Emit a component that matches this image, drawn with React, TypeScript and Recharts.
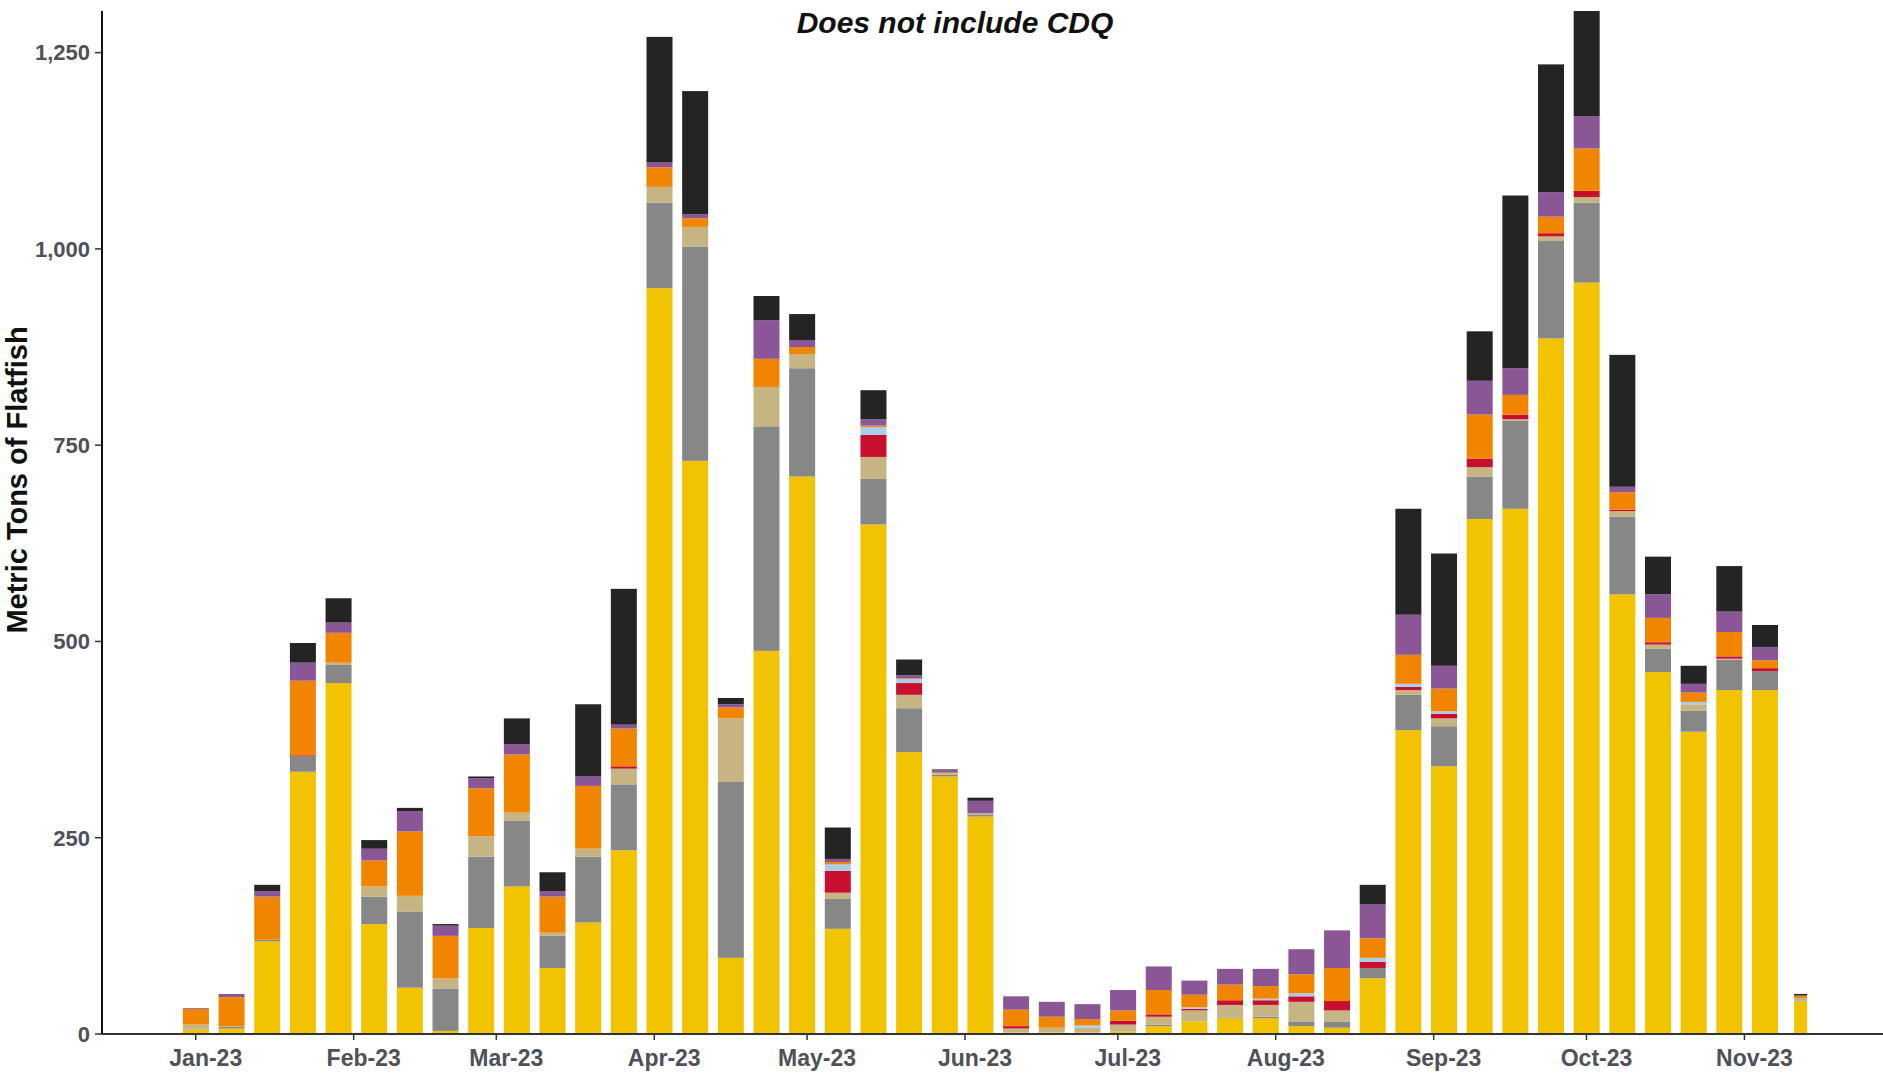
import React from "react";
import { BarChart, Bar, XAxis, YAxis } from "recharts";

// Week dates (one bar per week)
const weekDates = [
  "2023-01-01", "2023-01-08", "2023-01-15", "2023-01-22", "2023-01-29",
  "2023-02-05", "2023-02-12", "2023-02-19", "2023-02-26",
  "2023-03-05", "2023-03-12", "2023-03-19", "2023-03-26",
  "2023-04-02", "2023-04-09", "2023-04-16", "2023-04-23", "2023-04-30",
  "2023-05-07", "2023-05-14", "2023-05-21", "2023-05-28",
  "2023-06-04", "2023-06-11", "2023-06-18", "2023-06-25",
  "2023-07-02", "2023-07-09", "2023-07-16", "2023-07-23", "2023-07-30",
  "2023-08-06", "2023-08-13", "2023-08-20", "2023-08-27",
  "2023-09-03", "2023-09-10", "2023-09-17", "2023-09-24",
  "2023-10-01", "2023-10-08", "2023-10-15", "2023-10-22", "2023-10-29",
  "2023-11-05", "2023-11-12",
];

// Series values (metric tons), bottom to top of each stack
const seriesYellow = [6, 7, 118, 334, 447, 140, 59, 4, 135, 188, 84, 142, 234, 950, 730, 97, 488, 710, 134, 649, 359, 328, 277, 2, 2, 2, 3, 10, 16, 20, 20, 10, 8, 71, 387, 341, 656, 669, 886, 957, 560, 461, 385, 438, 438, 41];
const seriesGray = [1, 2, 2, 20, 23, 35, 97, 54, 91, 84, 41, 84, 84, 109, 273, 224, 286, 138, 38, 58, 56, 2, 2, 0, 0, 0, 0, 2, 0, 1, 2, 6, 8, 13, 45, 51, 54, 112, 124, 102, 99, 30, 27, 39, 24, 0];
const seriesTan = [5, 1, 0, 0, 3, 13, 20, 13, 26, 10, 4, 10, 20, 20, 25, 81, 50, 18, 8, 28, 17, 2, 2, 5, 6, 6, 9, 10, 14, 16, 15, 25, 14, 0, 6, 10, 12, 2, 6, 7, 7, 5, 8, 1, 0, 5];
const seriesRed = [0, 0, 0, 1, 0, 0, 0, 0, 0, 0, 0, 0, 3, 0, 0, 0, 0, 0, 28, 28, 15, 0, 0, 3, 0, 0, 5, 3, 2, 6, 6, 7, 12, 8, 4, 6, 11, 6, 4, 8, 2, 3, 0, 3, 4, 0];
const seriesLightBlue = [0, 0, 0, 0, 0, 0, 0, 0, 0, 0, 0, 0, 0, 0, 0, 0, 0, 0, 8, 10, 5, 0, 0, 0, 0, 3, 0, 0, 2, 0, 2, 4, 0, 5, 4, 3, 0, 0, 0, 0, 0, 0, 3, 0, 0, 0];
const seriesOrange = [20, 37, 55, 95, 38, 33, 82, 54, 61, 74, 46, 80, 48, 25, 11, 14, 36, 9, 3, 2, 1, 1, 0, 21, 14, 8, 13, 31, 16, 20, 16, 24, 42, 25, 37, 29, 56, 25, 21, 54, 22, 31, 12, 31, 10, 3];
const seriesPurple = [1, 4, 7, 23, 13, 15, 26, 13, 13, 13, 7, 12, 5, 6, 5, 4, 49, 9, 4, 8, 4, 3, 16, 17, 19, 19, 26, 30, 18, 20, 22, 32, 48, 43, 51, 29, 43, 34, 31, 41, 7, 30, 11, 26, 17, 0];
const seriesBlack = [0, 0, 8, 25, 31, 11, 4, 2, 2, 33, 24, 92, 173, 160, 157, 8, 31, 33, 40, 37, 20, 1, 4, 0, 0, 0, 0, 0, 0, 0, 0, 0, 0, 25, 135, 143, 63, 220, 163, 170, 168, 48, 23, 58, 28, 2];

// Axis ticks
const monthTickDates = ["2023-01-01", "2023-02-01", "2023-03-01", "2023-04-01", "2023-05-01", "2023-06-01", "2023-07-01", "2023-08-01", "2023-09-01", "2023-10-01", "2023-11-01"];
const monthTickLabels = ["Jan-23", "Feb-23", "Mar-23", "Apr-23", "May-23", "Jun-23", "Jul-23", "Aug-23", "Sep-23", "Oct-23", "Nov-23"];
const yTicks = [0, 250, 500, 750, 1000, 1250];

const DAY = 86400000;
const ORIGIN = Date.UTC(2023, 0, 1);
const toDay = (s: string) => {
  const [y, m, d] = s.split("-").map(Number);
  return Math.round((Date.UTC(y, m - 1, d) - ORIGIN) / DAY);
};

const days = weekDates.map(toDay);
const monthTicks = monthTickDates.map(toDay);
const lastDay = days[days.length - 1];

const data = days.map((day, i) => ({
  day,
  yellow: seriesYellow[i],
  gray: seriesGray[i],
  tan: seriesTan[i],
  red: seriesRed[i],
  lightblue: seriesLightBlue[i],
  orange: seriesOrange[i],
  purple: seriesPurple[i],
  black: seriesBlack[i],
}));

const series = [
  { key: "yellow", color: "#F2C300" },
  { key: "gray", color: "#878787" },
  { key: "tan", color: "#C6B483" },
  { key: "red", color: "#C8102E" },
  { key: "lightblue", color: "#A9CDEB" },
  { key: "orange", color: "#F28500" },
  { key: "purple", color: "#8B5696" },
  { key: "black", color: "#242424" },
];

const W = 1883;
const H = 1074;
const TICK_COLOR = "#4E5158";

const BarShape = (props: any) => {
  const { x, y, width, height, fill, payload } = props;
  if (!height || height <= 0 || !width) return null;
  let w = width;
  let xx = x;
  if (payload && payload.day === lastDay) {
    w = width / 2;
    xx = x + width / 4;
  }
  return <rect x={xx} y={y} width={w} height={height} fill={fill} />;
};

const XTick = (props: any) => {
  const { x, y, payload } = props;
  const idx = monthTicks.indexOf(payload.value);
  return (
    <text
      x={x + 10}
      y={y + 24}
      textAnchor="middle"
      fill={TICK_COLOR}
      fontFamily="Liberation Sans, Arial, sans-serif"
      fontWeight={700}
      fontSize={23}
    >
      {idx >= 0 ? monthTickLabels[idx] : ""}
    </text>
  );
};

export default function App() {
  return (
    <div style={{ position: "absolute", left: 0, top: 0, width: W, height: H, overflow: "hidden", background: "#fff" }}>
      <BarChart
        width={W}
        height={H}
        data={data}
        margin={{ top: 11, right: 0, bottom: 0, left: 0 }}
        barGap={0}
      >
        <XAxis
          dataKey="day"
          type="number"
          domain={[-18.4, 331.2]}
          allowDataOverflow
          ticks={monthTicks}
          interval={0}
          height={40}
          tickSize={6}
          tick={<XTick />}
          axisLine={{ stroke: "#333", strokeWidth: 2 }}
          tickLine={{ stroke: "#333", strokeWidth: 1.5 }}
        />
        <YAxis
          type="number"
          domain={[0, 1303]}
          allowDataOverflow
          ticks={yTicks}
          width={102}
          tickSize={7}
          tickMargin={5}
          tickFormatter={(v: number) => v.toLocaleString("en-US")}
          tick={{ fill: TICK_COLOR, fontSize: 22, fontWeight: 700, fontFamily: "Liberation Sans, Arial, sans-serif" }}
          axisLine={{ stroke: "#111", strokeWidth: 2 }}
          tickLine={{ stroke: "#333", strokeWidth: 1.5 }}
        />
        {series.map((s) => (
          <Bar
            key={s.key}
            dataKey={s.key}
            stackId="a"
            fill={s.color}
            barSize={26}
            isAnimationActive={false}
            shape={<BarShape />}
          />
        ))}
      </BarChart>
      <svg width={W} height={H} style={{ position: "absolute", left: 0, top: 0, pointerEvents: "none" }}>
        <text
          x={955}
          y={33}
          textAnchor="middle"
          fontFamily="Liberation Sans, Arial, sans-serif"
          fontWeight={700}
          fontStyle="italic"
          fontSize={30}
          fill="#111"
        >
          Does not include CDQ
        </text>
        <text
          x={17}
          y={480}
          transform="rotate(-90, 17, 480)"
          textAnchor="middle"
          dominantBaseline="central"
          fontFamily="Liberation Sans, Arial, sans-serif"
          fontWeight={700}
          fontSize={29}
          fill="#111"
        >
          Metric Tons of Flatfish
        </text>
      </svg>
    </div>
  );
}
